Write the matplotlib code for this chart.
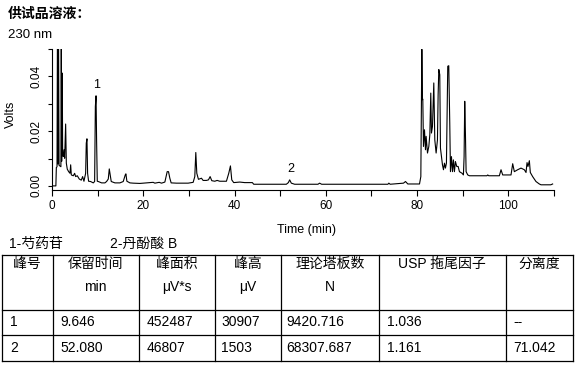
import numpy as np
import matplotlib
matplotlib.use("Agg")
import matplotlib.pyplot as plt
from matplotlib.ticker import MultipleLocator, FixedLocator

plt.rcParams['font.family'] = ['Liberation Sans', 'Noto Sans CJK SC']

# chromatogram trace (time in min, signal in volts)
t_early = [0.0, 0.85, 0.95, 1.10, 1.20, 1.32, 1.42, 1.55, 1.95, 2.03, 2.12, 2.25,
           2.33, 2.48, 2.63, 2.77, 2.99, 3.14, 3.35, 3.65, 3.94, 4.09, 4.23, 4.67,
           4.96, 5.18, 5.54, 5.98, 6.42, 6.71, 7.00, 7.37, 7.51, 7.66, 7.80, 8.02,
           8.46, 9.04, 9.34, 9.50, 9.65, 9.77, 9.92, 10.14, 10.87, 11.60, 11.96,
           12.33, 12.55, 12.76, 12.98, 13.79, 14.88, 15.61, 16.05, 16.19, 16.41,
           17.07, 17.80, 19.26, 19.98]
v_early = [0.0000, 0.0000, 0.0067, 0.0070, 0.0600, 0.0080, 0.0600, 0.0075, 0.0070,
           0.0600, 0.0090, 0.0412, 0.0120, 0.0107, 0.0132, 0.0101, 0.0226, 0.0083,
           0.0061, 0.0052, 0.0046, 0.0077, 0.0040, 0.0037, 0.0046, 0.0034, 0.0037,
           0.0025, 0.0021, 0.0034, 0.0017, 0.0046, 0.0156, 0.0172, 0.0046, 0.0017,
           0.0016, 0.0011, 0.0016, 0.0290, 0.0329, 0.0168, 0.0017, 0.0016, 0.0011,
           0.0011, 0.0016, 0.0025, 0.0062, 0.0040, 0.0016, 0.0011, 0.0011, 0.0016,
           0.0040, 0.0044, 0.0017, 0.0011, 0.0010, 0.0009, 0.0010]

t_mid = [22.17, 22.54, 23.49, 24.00, 24.73, 25.24, 25.53, 25.82, 26.11, 27.28,
         29.83, 30.93, 31.29, 31.51, 31.73, 32.09, 32.75, 33.11, 33.84, 34.28,
         34.65, 35.01, 35.67, 36.18, 36.76, 38.22, 38.73, 39.10, 39.39, 39.82,
         41.14, 42.23, 43.91, 44.20, 51.35, 51.79, 52.08, 52.44, 53.17, 58.28,
         58.64, 59.08, 73.60, 73.81, 74.10, 77.02, 77.46, 77.97, 80.53]
v_mid = [0.0013, 0.0010, 0.0013, 0.0010, 0.0014, 0.0052, 0.0052, 0.0028, 0.0011,
         0.0010, 0.0010, 0.0013, 0.0034, 0.0122, 0.0046, 0.0024, 0.0028, 0.0020,
         0.0020, 0.0022, 0.0034, 0.0019, 0.0017, 0.0020, 0.0017, 0.0017, 0.0046,
         0.0073, 0.0022, 0.0012, 0.0014, 0.0012, 0.0012, 0.0006, 0.0006, 0.0012,
         0.0022, 0.0010, 0.0006, 0.0006, 0.0010, 0.0006, 0.0006, 0.0010, 0.0006,
         0.0010, 0.0016, 0.0007, 0.0007]

t_late = [80.82, 81.04, 81.18, 81.25, 81.40, 81.62, 81.84, 81.98, 82.28, 82.57,
          82.79, 83.00, 83.15, 83.37, 83.66, 83.88, 84.17, 84.46, 84.61, 84.76,
          84.97, 85.12, 85.34, 85.56, 85.78, 86.00, 86.21, 86.43, 86.72, 86.94,
          87.16, 87.31, 87.53, 87.75, 87.96, 88.18, 88.40, 88.69, 88.99, 89.28,
          89.86, 90.15, 90.30, 90.44, 90.59, 90.74, 91.10, 91.47, 95.30, 95.48,
          95.70, 98.03, 98.39, 98.76, 100.58, 100.95, 101.31, 102.04, 102.77,
          103.50, 103.87, 104.09, 104.30, 104.60, 104.81, 105.32, 106.05, 106.78,
          107.15, 109.30, 109.70]
v_late = [0.0034, 0.0499, 0.0315, 0.0317, 0.0144, 0.0205, 0.0132, 0.0181, 0.0120,
          0.0144, 0.0187, 0.0339, 0.0193, 0.0217, 0.0376, 0.0168, 0.0120, 0.0168,
          0.0333, 0.0425, 0.0406, 0.0138, 0.0107, 0.0077, 0.0059, 0.0083, 0.0065,
          0.0083, 0.0437, 0.0439, 0.0229, 0.0052, 0.0107, 0.0052, 0.0095, 0.0052,
          0.0089, 0.0071, 0.0071, 0.0052, 0.0046, 0.0040, 0.0107, 0.0309, 0.0193,
          0.0052, 0.0040, 0.0037, 0.0037, 0.0040, 0.0037, 0.0037, 0.0059, 0.0040,
          0.0040, 0.0081, 0.0052, 0.0059, 0.0065, 0.0059, 0.0049, 0.0085, 0.0071,
          0.0092, 0.0049, 0.0034, 0.0016, 0.0007, 0.0004, 0.0004, 0.0007]

# labelled peaks
peak_labels = ["1", "2"]
peak_times = [9.646, 52.080]
peak_tops = [0.0329, 0.0022]

# results table
headers = ["峰号", "保留时间", "峰面积", "峰高", "理论塔板数", "USP 拖尾因子", "分离度"]
units = ["", "min", "μV*s", "μV", "N", "", ""]
peak_no = ["1", "2"]
ret_time = ["9.646", "52.080"]
area = ["452487", "46807"]
height = ["30907", "1503"]
plates = ["9420.716", "68307.687"]
tailing = ["1.036", "1.161"]
resolution = ["--", "71.042"]

t = np.array(t_early + t_mid + t_late)
v = np.array(v_early + v_mid + v_late)

W, H = 582, 371
fig = plt.figure(figsize=(W / 100, H / 100), dpi=100)

# overlay in pixel coordinates for the text and table
ov = fig.add_axes([0, 0, 1, 1])
ov.set_xlim(0, W)
ov.set_ylim(H, 0)
ov.axis("off")

ax = fig.add_axes([52 / W, (H - 190) / H, 502 / W, 141 / H])
ax.plot(t, v, color="black", lw=0.8, clip_on=True)
ax.set_xlim(0, 110)
ax.set_ylim(-0.0015, 0.05)
for s in ["top", "right"]:
    ax.spines[s].set_visible(False)
for s in ["left", "bottom"]:
    ax.spines[s].set_linewidth(0.8)
ax.spines["left"].set_bounds(-0.0015, 0.05)

ax.xaxis.set_major_locator(MultipleLocator(20))
ax.xaxis.set_minor_locator(FixedLocator([10, 30, 50, 70, 90, 110]))
ax.yaxis.set_major_locator(FixedLocator([0.0, 0.02, 0.04]))
ax.yaxis.set_minor_locator(FixedLocator([0.01, 0.03, 0.05]))
ax.set_yticklabels(["0.00", "0.02", "0.04"], rotation=90, va="center")
ax.tick_params(axis="x", which="both", direction="out", length=4, width=0.8,
               labelsize=8.5, pad=3)
ax.tick_params(axis="y", which="both", direction="out", length=3, width=0.8,
               labelsize=8.5, pad=4)

ax.set_xlabel("Time (min)", fontsize=9)
ax.xaxis.set_label_coords(0.506, -0.24)
ax.set_ylabel("Volts", fontsize=9)
ax.yaxis.set_label_coords(-0.07, 0.54)

for lab, pt, pv in zip(peak_labels, peak_times, peak_tops):
    ax.annotate(lab, (pt, pv), xytext=(0.5, 3.5), textcoords="offset points",
                ha="center", va="bottom", fontsize=9)

ov.text(8, 14, "供试品溶液：", fontsize=10, fontweight="bold", va="center")
ov.text(8, 35, "230 nm", fontsize=9.5, va="center")
ov.text(9, 244, "1-芍药苷", fontsize=10, va="center")
ov.text(110, 244, "2-丹酚酸 B", fontsize=10, va="center")

# table grid
col_x = [2, 52.5, 138.5, 215, 281, 379, 505.5, 573]
row_y = [255, 310, 334.5, 361]
for x in col_x:
    ov.plot([x, x], [row_y[0], row_y[-1]], color="black", lw=0.9)
for y in row_y:
    ov.plot([col_x[0], col_x[-1]], [y, y], color="black", lw=0.9)

pads = [8, 7.5, 8.5, 6, 5, 8, 7.5]
for i, (h, u) in enumerate(zip(headers, units)):
    cx = (col_x[i] + col_x[i + 1]) / 2
    ov.text(cx, 264, h, fontsize=10, ha="center", va="center")
    if u:
        ov.text(cx, 287, u, fontsize=10, ha="center", va="center")

rows = list(zip(peak_no, ret_time, area, height, plates, tailing, resolution))
for r, cells in enumerate(rows):
    y = (row_y[r + 1] + row_y[r + 2]) / 2
    for i, c in enumerate(cells):
        ov.text(col_x[i] + pads[i], y, c, fontsize=10, ha="left", va="center")

fig.savefig("out.png", dpi=100)
